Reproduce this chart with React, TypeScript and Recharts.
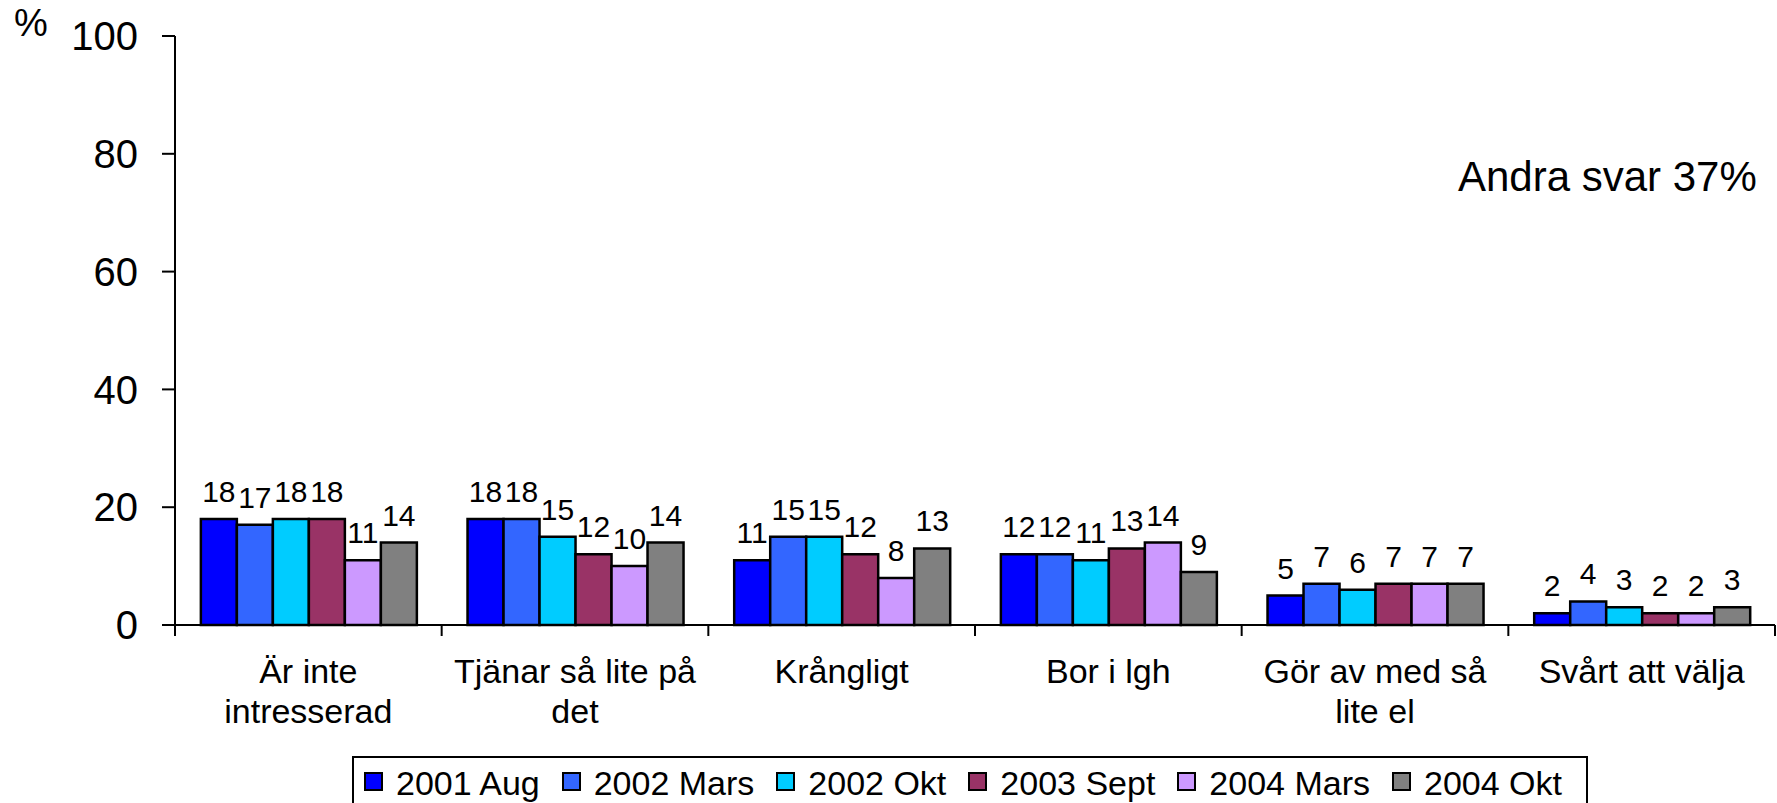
import React from "react";
import { Bar, BarChart, Label, LabelList, XAxis, YAxis } from "recharts";

const categories = [
    "Är inte\nintresserad",
    "Tjänar så lite på\ndet",
    "Krångligt",
    "Bor i lgh",
    "Gör av med så\nlite el",
    "Svårt att välja",
];
const seriesNames = ["2001 Aug", "2002 Mars", "2002 Okt", "2003 Sept", "2004 Mars", "2004 Okt"];
const aug2001 = [18, 18, 11, 12, 5, 2];
const mars2002 = [17, 18, 15, 12, 7, 4];
const okt2002 = [18, 15, 15, 11, 6, 3];
const sept2003 = [18, 12, 12, 13, 7, 2];
const mars2004 = [11, 10, 8, 14, 7, 2];
const okt2004 = [14, 14, 13, 9, 7, 3];
const yTicks = [0, 20, 40, 60, 80, 100];
const colors = ["#0000FF", "#3366FF", "#00CCFF", "#993366", "#CC99FF", "#808080"];
const note = "Andra svar 37%";

const series = [aug2001, mars2002, okt2002, sept2003, mars2004, okt2004];
const keys = ["s0", "s1", "s2", "s3", "s4", "s5"];

const data = categories.map((name, i) => {
    const row: any = { name };
    series.forEach((values, s) => {
        row[keys[s]] = values[i];
    });
    return row;
});

const FONT = "'Liberation Sans', Arial, sans-serif";

function CategoryTick(props: any) {
    const { x, y, payload, index } = props;
    const half = payload.offset || 1600 / categories.length / 2;
    const lines = String(payload.value).split("\n");
    return (
        <g>
            <line x1={x - half} x2={x - half} y1={y} y2={y + 11} stroke="#000" strokeWidth={2} />
            {index === categories.length - 1 && (
                <line x1={x + half} x2={x + half} y1={y} y2={y + 11} stroke="#000" strokeWidth={2} />
            )}
            <text x={x} y={y + 58} textAnchor="middle" fontSize={34} fill="#000" fontFamily={FONT}>
                {lines.map((line, i) => (
                    <tspan key={i} x={x} dy={i === 0 ? 0 : 40}>
                        {line}
                    </tspan>
                ))}
            </text>
        </g>
    );
}

function ChartLegend() {
    return (
        <div
            style={{
                position: "absolute",
                left: 352,
                top: 756,
                width: 1236,
                height: 60,
                boxSizing: "border-box",
                border: "2px solid #000",
                background: "#fff",
                display: "flex",
                alignItems: "flex-start",
                paddingTop: 8,
                paddingLeft: 10,
                fontFamily: FONT,
                fontSize: 34,
                lineHeight: "34px",
                color: "#000",
            }}
        >
            {seriesNames.map((name, i) => (
                <div key={name} style={{ display: "flex", alignItems: "flex-start", marginRight: 22, flexShrink: 0 }}>
                    <div
                        style={{
                            width: 19,
                            height: 19,
                            marginTop: 6,
                            marginRight: 13,
                            boxSizing: "border-box",
                            border: "2px solid #000",
                            background: colors[i],
                        }}
                    />
                    <span style={{ whiteSpace: "nowrap" }}>{name}</span>
                </div>
            ))}
        </div>
    );
}

export default function App() {
    return (
        <div style={{ position: "absolute", left: 0, top: 0, width: 1777, height: 803, background: "#fff", overflow: "hidden" }}>
            <BarChart
                width={1777}
                height={803}
                data={data}
                margin={{ top: 36, right: 2, left: 0, bottom: 0 }}
                barCategoryGap="9.7%"
                barGap={0}
            >
                <XAxis
                    dataKey="name"
                    height={178}
                    interval={0}
                    tickSize={0}
                    tickMargin={0}
                    tickLine={false}
                    axisLine={{ stroke: "#000", strokeWidth: 2 }}
                    tick={<CategoryTick />}
                />
                <YAxis
                    width={175}
                    domain={[0, 100]}
                    ticks={yTicks}
                    interval={0}
                    tickSize={13}
                    tickMargin={24}
                    axisLine={{ stroke: "#000", strokeWidth: 2 }}
                    tickLine={{ stroke: "#000", strokeWidth: 2 }}
                    tick={{ fill: "#000", fontSize: 40, fontFamily: FONT }}
                >
                    <Label
                        content={() => (
                            <text x={14} y={36} fontSize={38} fill="#000" fontFamily={FONT}>
                                %
                            </text>
                        )}
                    />
                </YAxis>
                {keys.map((key, s) => (
                    <Bar
                        key={key}
                        dataKey={key}
                        name={seriesNames[s]}
                        fill={colors[s]}
                        stroke="#000"
                        strokeWidth={2.5}
                        isAnimationActive={false}
                    >
                        <LabelList dataKey={key} position="top" offset={17} fontSize={30} fill="#000" fontFamily={FONT} />
                    </Bar>
                ))}
            </BarChart>
            <div
                style={{
                    position: "absolute",
                    left: 1458,
                    top: 156,
                    fontFamily: FONT,
                    fontSize: 42,
                    lineHeight: 1,
                    color: "#000",
                    whiteSpace: "nowrap",
                }}
            >
                {note}
            </div>
            <ChartLegend />
        </div>
    );
}
